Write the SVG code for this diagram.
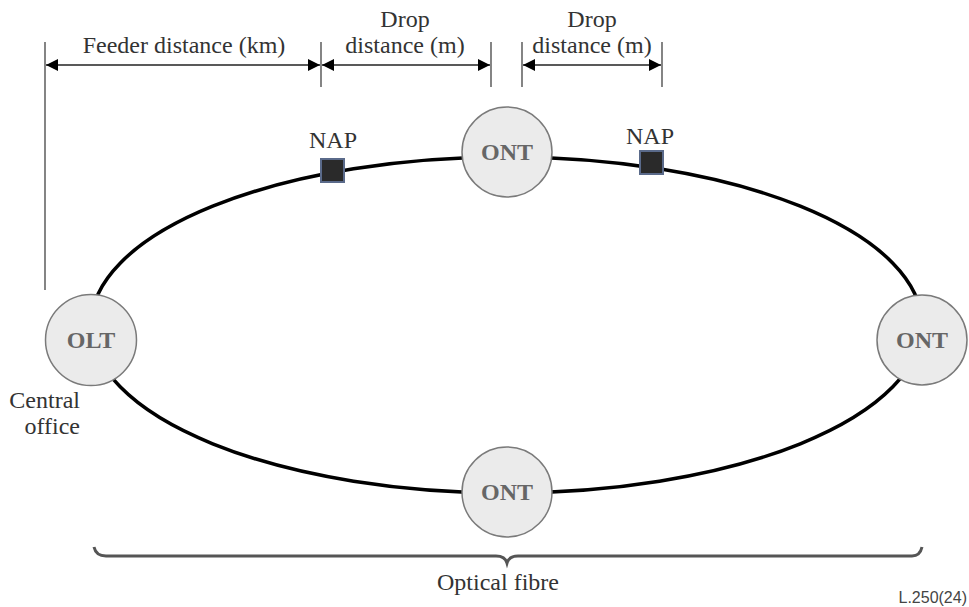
<svg xmlns="http://www.w3.org/2000/svg" width="969" height="607" viewBox="0 0 969 607">
<style>
.t{font-family:"Liberation Serif","Times New Roman",serif;font-size:24px;fill:#333;text-anchor:middle}
.n{font-family:"Liberation Serif","Times New Roman",serif;font-size:24px;font-weight:bold;fill:#666;text-anchor:middle}
.node{fill:#ebebeb;stroke:#7a7a7a;stroke-width:1.5}
.nap{fill:#2a2a2a;stroke:#5a6a8a;stroke-width:2}
.dim{stroke:#222;stroke-width:1.5;fill:none}
.tick{stroke:#333;stroke-width:1.2}
</style>
<defs>
<marker id="ah" viewBox="0 0 10 10" refX="10" refY="5" markerWidth="12" markerHeight="12" markerUnits="userSpaceOnUse" orient="auto-start-reverse">
<path d="M0,0 L10,5 L0,10 Z" fill="#000"/>
</marker>
</defs>
<rect width="969" height="607" fill="#fff"/>
<g id="connectors">
<ellipse cx="506.5" cy="325" rx="415.5" ry="168" fill="none" stroke="#000" stroke-width="3.5"/>
<path d="M94,547 Q96,556 106,556 L496,556 Q505,556 507,563 Q509,556 518,556 L912,556 Q920,556 922,547" fill="none" stroke="#555" stroke-width="3"/>
</g>
<g id="dimensions">
<line class="tick" x1="45" y1="42" x2="45" y2="290"/>
<line class="tick" x1="321" y1="42" x2="321" y2="87"/>
<line class="tick" x1="491" y1="42" x2="491" y2="87"/>
<line class="tick" x1="522" y1="42" x2="522" y2="87"/>
<line class="tick" x1="662" y1="42" x2="662" y2="87"/>
<line class="dim" x1="46" y1="65" x2="320" y2="65" marker-start="url(#ah)" marker-end="url(#ah)"/>
<line class="dim" x1="322" y1="65" x2="490" y2="65" marker-start="url(#ah)" marker-end="url(#ah)"/>
<line class="dim" x1="523" y1="65" x2="661" y2="65" marker-start="url(#ah)" marker-end="url(#ah)"/>
<text class="t" x="184" y="53">Feeder distance (km)</text>
<text class="t" x="405" y="27">Drop</text>
<text class="t" x="405" y="53">distance (m)</text>
<text class="t" x="592" y="27">Drop</text>
<text class="t" x="592" y="53">distance (m)</text>
</g>
<g id="olt">
<circle class="node" cx="91" cy="340" r="45.5"/>
<text class="n" x="91" y="348">OLT</text>
<text class="t" x="80" y="408" style="text-anchor:end">Central</text>
<text class="t" x="80" y="434" style="text-anchor:end">office</text>
</g>
<g id="ont-top">
<circle class="node" cx="507" cy="152" r="45"/>
<text class="n" x="507" y="160">ONT</text>
</g>
<g id="ont-right">
<circle class="node" cx="922" cy="340" r="45"/>
<text class="n" x="922" y="348">ONT</text>
</g>
<g id="ont-bottom">
<circle class="node" cx="507" cy="492" r="45"/>
<text class="n" x="507" y="500">ONT</text>
</g>
<g id="nap-left">
<rect class="nap" x="321" y="159" width="23" height="23"/>
<text class="t" x="333" y="148">NAP</text>
</g>
<g id="nap-right">
<rect class="nap" x="640" y="151" width="23" height="23"/>
<text class="t" x="650" y="144">NAP</text>
</g>
<text class="t" x="498" y="590">Optical fibre</text>
<text x="967" y="603" style="font-family:'Liberation Sans',Arial,sans-serif;font-size:16px;fill:#444;text-anchor:end">L.250(24)</text>
</svg>
